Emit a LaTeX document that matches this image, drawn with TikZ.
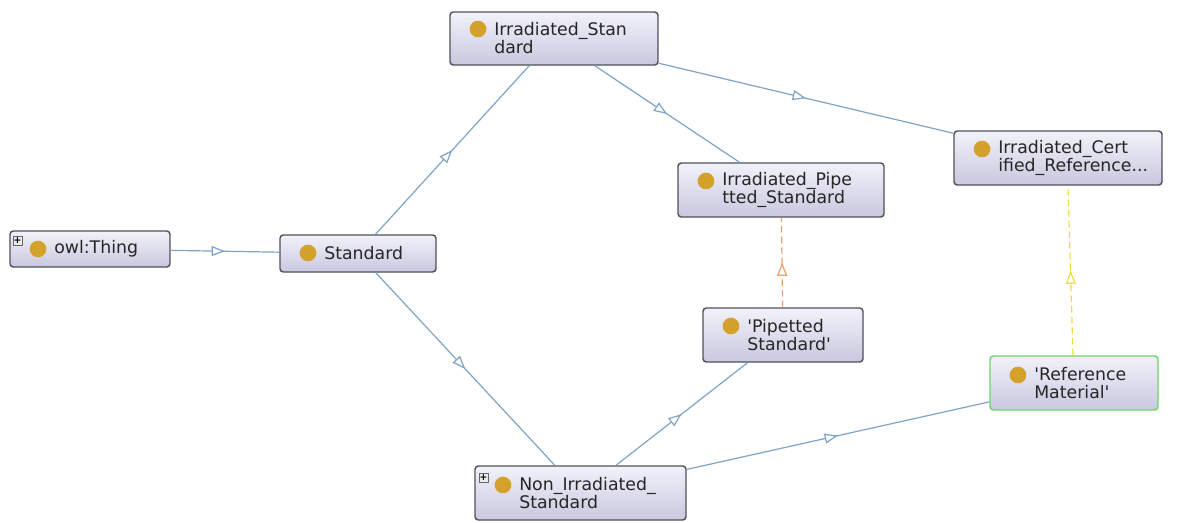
\documentclass[tikz,border=0pt]{standalone}
\usepackage{fontspec}
\setmainfont{DejaVu Sans}
\usetikzlibrary{arrows.meta,decorations.markings,fit,calc}

\definecolor{edgeblue}{HTML}{7FA3C5}
\definecolor{boxborder}{HTML}{50505A}
\definecolor{boxtop}{HTML}{F2F2FA}
\definecolor{boxbot}{HTML}{C8C8DF}
\definecolor{dotgold}{HTML}{D4A22C}
\definecolor{dashorange}{HTML}{E8A070}
\definecolor{dashyellow}{HTML}{F0DC40}
\definecolor{selgreen}{HTML}{6CD46C}

\tikzset{
  classbox/.style={draw=boxborder, line width=1.1pt, rounded corners=2.5pt,
    top color=boxtop, bottom color=boxbot, inner sep=0pt},
  selbox/.style={classbox, draw=selgreen},
  dot/.style={circle, fill=dotgold, draw=none, minimum size=12.5pt, inner sep=0pt},
  label/.style={anchor=west, align=left, inner sep=0pt, font=\fontsize{13}{13.5}\selectfont, text=black!85},
  plusicon/.style={draw=black!60, fill=black!8, line width=0.5pt, minimum size=6.5pt,
    inner sep=0pt, font=\fontsize{7}{7}\selectfont\bfseries},
  midtri/.style={postaction={decorate}, decoration={markings,
    mark=at position 0.5 with {\arrow{Triangle[length=10pt, width=7.5pt, fill=white]}}}},
  isa/.style={draw=edgeblue, line width=0.9pt, midtri},
  equiv/.style={line width=0.9pt, dash pattern=on 5pt off 3pt, midtri},
}

% box corners, then dot and text placed from the left edge
\newcommand{\classnode}[8]{%
  \node[#8, fit={(#2,#3) (#4,#5)}] (#1) {};
  \node[dot] (#1-dot) at (#2+28,#7) {};
  \node[label] (#1-txt) at (#2+44,{(#3+#5)/2}) {#6};
}
\newcommand{\sq}{\textquotesingle}

\begin{document}
\begin{tikzpicture}[x=0.75pt,y=-0.75pt]
\useasboundingbox (0,0) rectangle (1182,522);

\classnode{thing}{10}{231}{170}{267}{owl:Thing}{249}{classbox}
\classnode{std}{280}{235}{436}{272}{Standard}{253}{classbox}
\classnode{irr}{450}{12}{658}{65}{Irradiated\_Stan\\dard}{29}{classbox}
\classnode{irrpip}{678}{163}{884}{217}{Irradiated\_Pipe\\tted\_Standard}{181}{classbox}
\classnode{irrcert}{954}{131}{1162}{185}{Irradiated\_Cert\\ified\_Reference...}{149}{classbox}
\classnode{pip}{703}{308}{863}{362}{\sq Pipetted\\Standard\sq}{326}{classbox}
\classnode{refmat}{990}{356}{1158}{410}{\sq Reference\\Material\sq}{375}{selbox}
\classnode{nonirr}{475}{466}{686}{520}{Non\_Irradiated\_\\Standard}{485}{classbox}

\node[plusicon] (thing-plus) at (17.5,240.5) {+};
\node[plusicon] (nonirr-plus) at (483.5,477.5) {+};

% attachment points of the yellow equivalence edge
\coordinate (refmat-top) at ($(refmat.north)+(-1,0)$);
\coordinate (irrcert-bot) at ($(irrcert.south)+(10,0)$);

\draw[isa] (thing) -- (std);
\draw[isa] (std) -- (irr);
\draw[isa] (std) -- (nonirr);
\draw[isa] (irr) -- (irrpip);
\draw[isa] (irr) -- (irrcert);
\draw[isa] (nonirr) -- (pip);
\draw[isa] (nonirr) -- (refmat);
\draw[equiv, draw=dashorange] (pip) -- (irrpip);
\draw[equiv, draw=dashyellow] (refmat-top) -- (irrcert-bot);
\end{tikzpicture}
\end{document}
